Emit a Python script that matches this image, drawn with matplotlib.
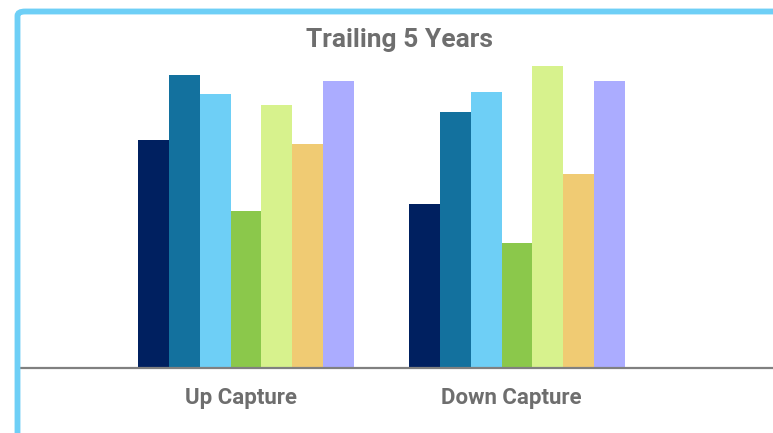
import matplotlib.pyplot as plt
import matplotlib.patches as mpatches
import numpy as np

plt.rcParams['font.family'] = ['Roboto', 'DejaVu Sans']

categories = ['Up Capture', 'Down Capture']
series_names = ['S1', 'S2', 'S3', 'S4', 'S5', 'S6', 'S7']
colors = ['#002060', '#13719E', '#6ECFF6', '#8BC84B', '#D7F28D', '#F0CB73', '#ABACFF']
# one list per series: [Up Capture, Down Capture]
s1 = [76.0, 54.7]
s2 = [97.7, 85.3]
s3 = [91.3, 92.0]
s4 = [52.3, 41.7]
s5 = [87.7, 100.7]
s6 = [74.7, 64.7]
s7 = [95.7, 95.7]
values = [s1, s2, s3, s4, s5, s6, s7]

W, H = 773, 433
fig = plt.figure(figsize=(W / 100, H / 100), dpi=100)
ax = fig.add_axes([20 / W, (H - 368) / H, 1 - 20 / W, (368 - 50) / H])

x = np.arange(len(categories))
bw = 0.1139
n = len(values)
for i, (vals, c) in enumerate(zip(values, colors)):
    ax.bar(x + (i - (n - 1) / 2) * bw, vals, width=bw, color=c, label=series_names[i], linewidth=0)

ax.set_xlim(-0.834, 1.945)
ax.set_ylim(0, 106)
for s in ['top', 'right', 'left']:
    ax.spines[s].set_visible(False)
ax.spines['bottom'].set_color('#808080')
ax.spines['bottom'].set_linewidth(1.6)
ax.set_yticks([])
ax.set_xticks(x - 0.02)
ax.set_xticklabels(categories, fontsize=16, fontweight='bold', color='#6E6E6E')
ax.tick_params(axis='x', length=0, pad=14)

fig.text(400 / W, 1 - 47 / H, 'Trailing 5 Years', ha='center', va='baseline',
         fontsize=19, fontweight='bold', color='#6E6E6E')

# light blue frame (left + top edges, rounded corner)
frame = mpatches.FancyBboxPatch((17.5 / W, -0.2), 1.2, 1.2 - 11.5 / H,
                                boxstyle='round,pad=0,rounding_size=0.01',
                                transform=fig.transFigure, fill=False,
                                edgecolor='#6ECFF6', linewidth=4.2, clip_on=False)
fig.patches.append(frame)

fig.savefig('out.png', dpi=100)
